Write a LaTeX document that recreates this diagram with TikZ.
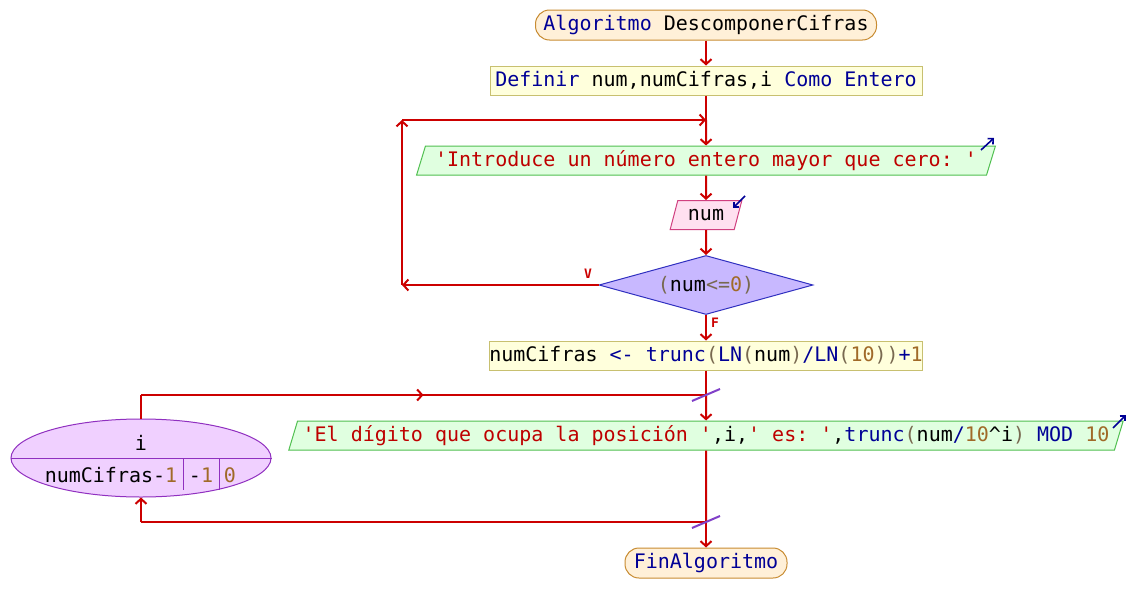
\documentclass[tikz,border=0pt]{standalone}
\usepackage{fontspec}
\setmonofont{DejaVu Sans Mono}
\usetikzlibrary{shapes.geometric,arrows.meta,decorations.markings,positioning}

\definecolor{flowred}{RGB}{204,0,0}
\definecolor{kwblue}{RGB}{0,0,150}
\definecolor{strred}{RGB}{190,0,0}
\definecolor{numbrown}{RGB}{160,106,40}
\definecolor{pargray}{RGB}{120,105,80}
\definecolor{termfill}{RGB}{255,240,216}
\definecolor{termborder}{RGB}{200,140,50}
\definecolor{procfill}{RGB}{255,255,220}
\definecolor{procborder}{RGB}{200,192,112}
\definecolor{outfill}{RGB}{224,255,224}
\definecolor{outborder}{RGB}{80,192,80}
\definecolor{infill}{RGB}{255,224,240}
\definecolor{inborder}{RGB}{208,64,128}
\definecolor{decfill}{RGB}{200,184,255}
\definecolor{decborder}{RGB}{48,48,192}
\definecolor{loopfill}{RGB}{240,208,255}
\definecolor{loopborder}{RGB}{144,48,192}
\definecolor{slashpurple}{RGB}{128,64,200}

\newcommand{\kwd}[1]{\textcolor{kwblue}{#1}}
\newcommand{\strg}[1]{\textcolor{strred}{#1}}
\newcommand{\nmb}[1]{\textcolor{numbrown}{#1}}
\newcommand{\prn}[1]{\textcolor{pargray}{#1}}

\begin{document}
\begin{tikzpicture}[x=1pt, y=-1pt,
                    font=\ttfamily\fontsize{20}{24}\selectfont,
                    flowtip/.tip={Straight Barb[length=5pt,width=11pt]},
                    ]
    \tikzstyle{terminal}=[rectangle, rounded corners=14pt, draw=termborder, fill=termfill, line width=1pt, minimum height=30pt, inner sep=0pt]
    \tikzstyle{procbox}=[rectangle, draw=procborder, fill=procfill, line width=1pt, minimum height=29pt, inner sep=0pt]
    \tikzstyle{outbox}=[trapezium, trapezium left angle=67, trapezium right angle=113, trapezium stretches=true, draw=outborder, fill=outfill, line width=1pt, minimum height=29pt, inner sep=0pt]
    \tikzstyle{inbox}=[outbox, draw=inborder, fill=infill]
    \tikzstyle{decision}=[diamond, aspect=3.6, draw=decborder, fill=decfill, line width=1pt, minimum width=214pt, minimum height=59pt, inner sep=0pt]
    \tikzstyle{loopnode}=[ellipse, draw=loopborder, fill=loopfill, line width=1pt, minimum width=260pt, minimum height=78pt, inner sep=0pt]
    \tikzstyle{flow}=[draw=flowred, line width=2pt, -flowtip]
    \tikzstyle{plain}=[draw=flowred, line width=2pt]
    \tikzstyle{midflow}=[plain, postaction={decorate}, decoration={markings, mark=at position 0.5 with {\arrow[flowred, line width=2pt]{flowtip}}}]
    \tikzstyle{slash}=[draw=slashpurple, line width=2pt]
    \tikzstyle{icon}=[draw=kwblue, line width=1.6pt, -{Straight Barb[length=4pt,width=8pt]}]
    \tikzstyle{lbl}=[text=flowred, font=\ttfamily\bfseries\fontsize{13}{15}\selectfont, inner sep=0pt]

    \path[use as bounding box, fill=white] (0,0) rectangle (1129,613);

    \node[terminal, minimum width=341pt] (start) at (706,25) {\kwd{Algoritmo} DescomponerCifras};
    \node[procbox, minimum width=432pt] (define) at (706,80.5) {\kwd{Definir} num,numCifras,i \kwd{Como Entero}};
    \node[outbox, minimum width=580pt] (ask) at (706,160.5) {\strg{'Introduce un número entero mayor que cero: '}};
    \node[inbox, minimum width=72pt] (read) at (706,215) {num};
    \node[decision] (test) at (706,285) {\prn{(}num\prn{<=}\nmb{0}\prn{)}};
    \node[procbox, minimum width=432pt] (assign) at (706,355.5) {numCifras \kwd{<- trunc}\prn{(}\kwd{LN}\prn{(}num\prn{)}\kwd{/LN}\prn{(}\nmb{10}\prn{))}\kwd{+}\nmb{1}};
    \node[outbox, minimum width=840pt] (show) at (706,435.5) {\strg{'El dígito que ocupa la posición '},i,\strg{' es: '},\kwd{trunc}\prn{(}num\kwd{/}\nmb{10}\textasciicircum i\prn{)} \kwd{MOD} \nmb{10}};
    \node[loopnode] (forloop) at (141,458) {};
    \node (loopvar) at (141,443) {i};
    \node (loopfrom) at (111,475) {numCifras-\nmb{1}};
    \node (loopstep) at (201,475) {-\nmb{1}};
    \node (loopto) at (230,475) {\nmb{0}};
    \node[terminal, minimum width=162pt] (finish) at (706,563) {\kwd{FinAlgoritmo}};

    \node[lbl] (vlbl) at (588,274) {V};
    \node[lbl] (flbl) at (715,323) {F};

    \coordinate (loopin) at (706,120);
    \coordinate (backL) at (402,285);
    \coordinate (backT) at (402,120);
    \coordinate (forin) at (706,395);
    \coordinate (forL) at (141,395);
    \coordinate (forout) at (706,522);
    \coordinate (forB) at (141,522);

    \draw[loopborder, line width=1pt] (forloop.west) -- (forloop.east);
    \draw[loopborder, line width=1pt] (183,459) -- (183,490);
    \draw[loopborder, line width=1pt] (219,459) -- (219,490);

    \path[flow] (start) -- (define);
    \path[plain] (define) -- (loopin);
    \path[flow] (loopin) -- (ask);
    \path[flow] (ask) -- (read);
    \path[flow] (read) -- (test);
    \path[flow] (test) -- (assign);
    \path[flow] (test.west) -- (backL);
    \path[flow] (backL) -- (backT);
    \path[flow] (backT) -- (loopin);
    \path[plain] (assign) -- (forin);
    \path[flow] (forin) -- (show);
    \path[plain] (show) -- (forout);
    \path[flow] (forout) -- (finish);
    \path[plain] (forloop) -- (forL);
    \path[midflow] (forL) -- (forin);
    \path[plain] (forout) -- (forB);
    \path[flow] (forB) -- (forloop);

    \path[slash] ([xshift=-14pt,yshift=-6pt]forin) -- ([xshift=14pt,yshift=6pt]forin);
    \path[slash] ([xshift=-14pt,yshift=-6pt]forout) -- ([xshift=14pt,yshift=6pt]forout);

    \path[icon] (981,150) -- (994,138);
    \path[icon] (745,196) -- (733,208);
    \path[icon] (1113,428) -- (1126,415);
\end{tikzpicture}
\end{document}
